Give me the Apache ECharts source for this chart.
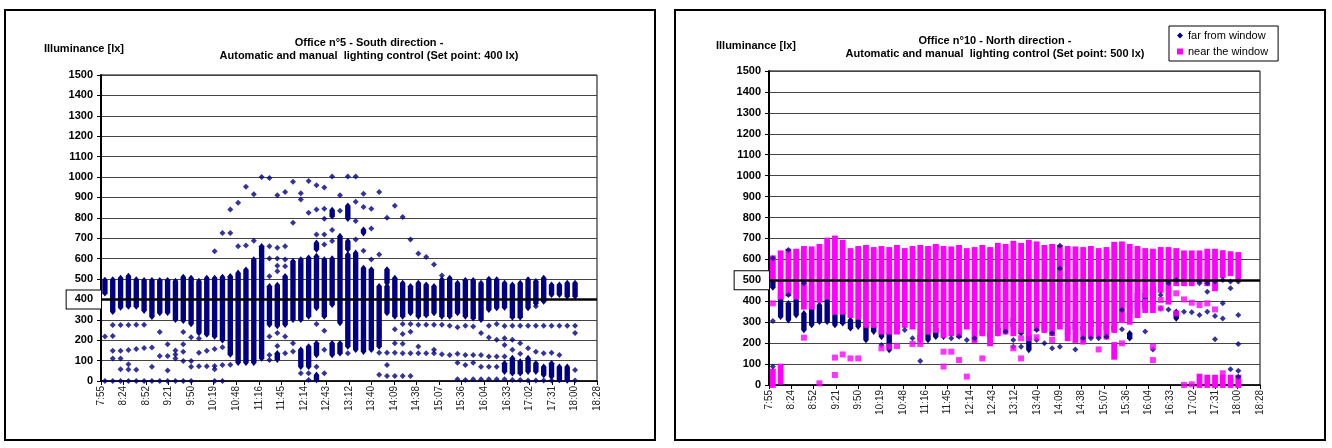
<!DOCTYPE html>
<html>
<head>
<meta charset="utf-8">
<script src="https://cdn.jsdelivr.net/npm/echarts@6/dist/echarts.min.js"></script>
<style>html,body{margin:0;background:#fff}#chart{width:1332px;height:448px}</style>
</head>
<body>
<div id="chart"></div>
<script>
// x axis tick labels (Excel time axis, 7:55 .. 18:28)
var tickLabels = ['7:55','8:24','8:52','9:21','9:50','10:19','10:48','11:16','11:45','12:14','12:43',
  '13:12','13:40','14:09','14:38','15:07','15:36','16:04','16:33','17:02','17:31','18:00','18:28'];

// measurement times, one column of readings each
var sampleTimes = ['8:00','8:10','8:20','8:30','8:40','8:50','9:00','9:10','9:20','9:30','9:40','9:50',
  '10:00','10:10','10:20','10:30','10:40','10:50','11:00','11:10','11:20','11:30','11:40','11:50',
  '12:00','12:10','12:20','12:30','12:40','12:50','13:00','13:10','13:20','13:30','13:40','13:50',
  '14:00','14:10','14:20','14:30','14:40','14:50','15:00','15:10','15:20','15:30','15:40','15:50',
  '16:00','16:10','16:20','16:30','16:40','16:50','17:00','17:10','17:20','17:30','17:40','17:50','18:00'];

var setPoints = [400, 500];

// readings per time column: single values, [lo, hi] = dense run of overlapping readings
var office5 = [
  [[430,495],218,0],[[340,497],275,220,148,110,0],[[360,505],275,148,110,57,0],[[365,515],275,152,82,56,0],
  [[365,497],276,157,55,0],[[345,494],276,162,0],[[315,494],164,70,0],[[333,494],240,122,0],
  [[335,494],180,123,51,0],[[300,490],150,130,110,0],[[295,510],240,180,143,98,0],[[280,505],215,98,70,0],
  [[235,490],208,138,72],[[228,505],148,72],[[218,505],636,157,74,57,0],[[200,510],726,165,78,0],
  [[130,513],841,726,80],[[90,530],874,660],[[90,545],952,664],[[90,595],915,688],
  [[110,660],1000],[[276,464],995,660,600,513,218,128,103],[[270,470],910,653,600,565,538,235,172,[105,136]],
  [[276,513],927,661,595,562,218,136],[[300,587],977,776,185,144],[[300,595],920,890,[70,153],38],
  [[317,604],981,825,[70,169],38,5],[[358,612],959,841,718,[645,677],280,[128,185],70,[5,30]],
  [[317,595],948,844,795,718,669,246,153,38],[[374,600],1002,[808,838],740,686,[128,185]],
  [[284,710],910,835,[136,185]],[[169,620],1002,[795,859],[645,686],136],[[153,628],1002,879,784,694],
  [[144,554],918,853,[725,741],638],[[153,546],844,748,595],[[169,464],927,620,139,31],
  [[333,464],800,[480,546],139,79,25],[[317,505],859,254,185,139,25],[[317,480],804,279,231,182,136,25],
  [[333,464],694,280,241,136,25],[[317,480],625,276,169,136],[[322,472],608,276,136],
  [[333,464],571,276,153,136],[[317,497],517,276,131],[[317,505],271,128],[[333,480],264,133,90,8],
  [[317,494],271,128,79,5],[[308,494],267,128,90,8],[[300,480],235,128,70,8],[[349,500],271,213,120,70,8],
  [[358,497],280,202,120,70,8],[[360,480],270,210,177,120,[46,87],8],[[313,472],271,202,153,[38,112],5],
  [[313,480],271,185,133,[38,95],5],[[358,497],271,161,[46,112],3],[[380,489],366,271,143,[46,87],3],
  [[390,505],271,136,[30,70],3],[[423,472],271,139,[21,87],3],[[423,472],271,128,[5,70]],
  [[415,480],271,[3,70]],[[415,480],271,235,54,3]
];

var office10Far = [
  [605,[466,494],306,88],[[326,446]],[645,430,[310,390]],[[334,406]],[486,[263,342]],[[287,406]],
  [[302,382]],[[302,406]],[[287,334]],[[295,350]],[[271,310]],[[279,310]],[[215,279]],[[255,279]],
  [[231,263],191],[[167,247]],[[271,287]],[263],[223],[[215,239],115],[[215,239]],[[231,271]],
  [[231,263]],[223],[231],[215],[223],[[247,263]],[[231,247]],[[247,271]],[255],[[279,318],215,183],
  [[247,263],183],[[167,239]],[263,215],[[263,302],199],[247,175],[557,183,665],[[239,279]],[[263,310],170],
  [[263,279],223],[[279,310],223],[[279,295],223],[[263,295],231],[[263,279]],[358,266],
  [[342,398],[223,247]],[[358,438]],[[366,438],255],[[390,470],170],[430,366],[486,361],[502,[318,350]],
  [350],[347],[486,334],[486,446,350],[494,330,218],[502,390,318],[494,462,75],[494,334,196,68,40]
];

var office10Near = [
  [[509,605],390,[0,64]],[[422,629],[16,88]],[[438,637]],[[422,637]],[[374,650],226],[[374,648]],
  [[406,660],8],[[422,690]],[[350,700],131,48],[[350,680],146],[[334,640],127],[[326,650],127],
  [[287,655]],[[287,645]],[[255,650],175],[[255,645],183],[[255,655],186],[[287,640]],[[279,650],196],
  [[223,655],196],[[255,650]],[[263,660],655],[[239,650],159,88],[[247,648],159],[[239,655],119],
  [[279,640],40],[[215,645]],[[247,655],127],[[199,645]],[[247,665]],[[255,660]],[[247,675],175],
  [[263,665],223,127],[[247,680],223],[[271,672],228],[[263,655]],[[247,660],215],[[279,655]],
  [[223,650]],[[215,648]],[[207,645]],[[239,650]],[[239,640],170],[[231,645]],[[263,670],[135,191]],
  [[310,672],199],[[302,660]],[[334,650]],[[430,640],[358,398]],[[438,637],[358,414],183,119],
  [[454,645],406,366],[[470,645],[398,446]],[[486,640],438,342],[[486,629],409,0],[[486,629],393,3],
  [[502,629],382,[0,40]],[[486,637],390,[0,35]],[[462,637],361,[0,35]],[[525,630],56,[0,35]],
  [[534,625],[0,35]],[[509,621],[0,35]]
];

var NAVY = '#000080', MAGENTA = '#ff00ff';
var FONT = 'Arial, "Liberation Sans", sans-serif';
var span = 633, step = span / 22;

function toMin(s) { var p = s.split(':'); return (+p[0]) * 60 + (+p[1]) - 475; }

function split(cols) {
  var pts = [], bands = [];
  cols.forEach(function (c, i) {
    var t = toMin(sampleTimes[i]);
    c.forEach(function (v) {
      if (Array.isArray(v)) bands.push([t, v[0], v[1]]);
      else pts.push([t, v]);
    });
  });
  return { pts: pts, bands: bands };
}

// dense run of markers drawn as one stretched marker
function bandRender(shape, color, r) {
  return function (params, api) {
    var x = api.value(0);
    var lo = api.coord([x, api.value(1)]);
    var hi = api.coord([x, api.value(2)]);
    if (shape === 'diamond') {
      return { type: 'polygon', shape: { points: [
        [hi[0], hi[1] - r - 0.6], [hi[0] + r, hi[1]], [lo[0] + r, lo[1]],
        [lo[0], lo[1] + r + 0.6], [lo[0] - r, lo[1]], [hi[0] - r, hi[1]]] },
        style: { fill: color } };
    }
    return { type: 'rect', shape: { x: hi[0] - r, y: hi[1] - r, width: 2 * r, height: lo[1] - hi[1] + 2 * r },
      style: { fill: color } };
  };
}

var d5 = split(office5), dFar = split(office10Far), dNear = split(office10Near);

function xAxis(grid) {
  return {
    type: 'value', gridIndex: grid, min: 0, max: span, interval: step,
    axisLine: { lineStyle: { color: '#000', width: 1.5 } },
    axisTick: { show: true, length: 4, lineStyle: { color: '#000' } },
    splitLine: { show: false },
    axisLabel: { rotate: 90, margin: 5, fontSize: 10, fontFamily: FONT, color: '#222',
      formatter: function (v) { return tickLabels[Math.round(v / step)]; } }
  };
}
function yAxis(grid, sp) {
  return {
    type: 'value', gridIndex: grid, min: 0, max: 1500, interval: 100,
    axisLine: { show: true, lineStyle: { color: '#000', width: 2 } },
    axisTick: { show: true, length: 4, lineStyle: { color: '#000' } },
    splitLine: { lineStyle: { color: '#444', width: 1 } },
    axisLabel: { margin: 8, fontSize: 11, fontWeight: 'bold', fontFamily: FONT, color: '#000',
      formatter: function (v) { return v === sp ? '' : String(v); } }
  };
}
function setLine(sp) {
  return {
    silent: true, symbol: ['none', 'none'], animation: false,
    lineStyle: { color: '#000', width: 2.5, type: 'solid' },
    label: { show: true, position: 'start', distance: 0, formatter: String(sp),
      fontSize: 11, fontWeight: 'bold', fontFamily: FONT, color: '#000',
      borderColor: '#000', borderWidth: 1, padding: [4, 8, 3, 8], backgroundColor: '#fff' },
    data: [{ yAxis: sp }]
  };
}

var chart = echarts.init(document.getElementById('chart'));
chart.setOption({
  backgroundColor: '#fff',
  animation: false,
  graphic: [
    { type: 'rect', shape: { x: 5, y: 10, width: 650, height: 430 }, style: { fill: 'none', stroke: '#000', lineWidth: 2 } },
    { type: 'rect', shape: { x: 675, y: 10, width: 650, height: 430 }, style: { fill: 'none', stroke: '#000', lineWidth: 2 } }
  ],
  title: [
    { text: 'Office n°5 - South direction -\nAutomatic and manual  lighting control (Set point: 400 lx)',
      left: 369, top: 36, textAlign: 'center', padding: 0,
      textStyle: { fontSize: 11, fontWeight: 'bold', fontFamily: FONT, lineHeight: 13, color: '#000' } },
    { text: 'Office n°10 - North direction -\nAutomatic and manual  lighting control (Set point: 500 lx)',
      left: 995, top: 34, textAlign: 'center', padding: 0,
      textStyle: { fontSize: 11, fontWeight: 'bold', fontFamily: FONT, lineHeight: 13, color: '#000' } },
    { text: 'Illuminance [lx]', left: 84, top: 43, textAlign: 'center', padding: 0,
      textStyle: { fontSize: 11, fontWeight: 'bold', fontFamily: FONT, color: '#000' } },
    { text: 'Illuminance [lx]', left: 756, top: 40, textAlign: 'center', padding: 0,
      textStyle: { fontSize: 11, fontWeight: 'bold', fontFamily: FONT, color: '#000' } }
  ],
  legend: {
    orient: 'vertical', left: 1169, top: 26, padding: [4, 10, 4, 8], itemGap: 5,
    itemWidth: 6, itemHeight: 6, borderColor: '#000', borderWidth: 1, backgroundColor: '#fff',
    textStyle: { fontSize: 11, fontFamily: FONT, color: '#000' },
    data: [{ name: 'far from window', icon: 'diamond' }, { name: 'near the window', icon: 'rect' }]
  },
  grid: [
    { left: 101, right: 735, top: 75, bottom: 67, show: true, borderColor: '#000', borderWidth: 1, backgroundColor: '#fff' },
    { left: 769, right: 72, top: 71, bottom: 63, show: true, borderColor: '#000', borderWidth: 1, backgroundColor: '#fff' }
  ],
  xAxis: [xAxis(0), xAxis(1)],
  yAxis: [yAxis(0, setPoints[0]), yAxis(1, setPoints[1])],
  series: [
    { name: 'office 5', type: 'custom', xAxisIndex: 0, yAxisIndex: 0, data: d5.bands,
      encode: { x: 0, y: [1, 2] }, renderItem: bandRender('diamond', NAVY, 2.7), itemStyle: { color: NAVY } },
    { name: 'office 5', type: 'scatter', xAxisIndex: 0, yAxisIndex: 0, data: d5.pts,
      symbol: 'diamond', symbolSize: 6, itemStyle: { color: NAVY }, markLine: setLine(setPoints[0]) },
    { name: 'far from window', type: 'custom', xAxisIndex: 1, yAxisIndex: 1, data: dFar.bands,
      encode: { x: 0, y: [1, 2] }, renderItem: bandRender('diamond', NAVY, 2.7), itemStyle: { color: NAVY } },
    { name: 'far from window', type: 'scatter', xAxisIndex: 1, yAxisIndex: 1, data: dFar.pts,
      symbol: 'diamond', symbolSize: 6, itemStyle: { color: NAVY } },
    { name: 'near the window', type: 'custom', xAxisIndex: 1, yAxisIndex: 1, data: dNear.bands,
      encode: { x: 0, y: [1, 2] }, renderItem: bandRender('rect', MAGENTA, 2.9), itemStyle: { color: MAGENTA } },
    { name: 'near the window', type: 'scatter', xAxisIndex: 1, yAxisIndex: 1, data: dNear.pts,
      symbol: 'rect', symbolSize: 6, itemStyle: { color: MAGENTA }, markLine: setLine(setPoints[1]) }
  ]
});
</script>
</body>
</html>
